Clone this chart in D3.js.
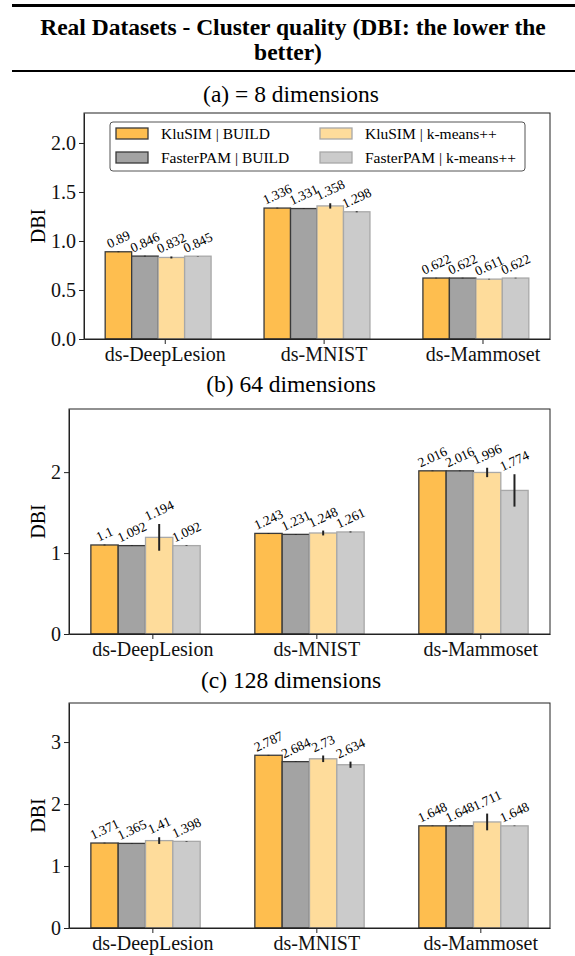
<!DOCTYPE html>
<meta charset="utf-8">
<script src="https://d3js.org/d3.v7.min.js"></script>
<style>
  body { margin: 0; background: #fff; }
  svg { font-family: "Liberation Serif", "Times New Roman", serif; }
  .axis path, .axis line { stroke: #222; }
  .axis text { font-family: "Liberation Serif", "Times New Roman", serif; font-size: 20px; fill: #111; }
</style>
<div id="chart"></div>
<script>

// data
const categories = ["ds-DeepLesion", "ds-MNIST", "ds-Mammoset"];
const series = ["KluSIM | BUILD", "FasterPAM | BUILD", "KluSIM | k-means++", "FasterPAM | k-means++"];

// per category, one value per series
const dbi8   = [[0.89, 0.846, 0.832, 0.845], [1.336, 1.331, 1.358, 1.298], [0.622, 0.622, 0.611, 0.622]];
const err8   = [[0.004, 0.004, 0.01, 0.002], [0.004, 0.003, 0.027, 0.005], [0.003, 0.003, 0.003, 0.003]];
const dbi64  = [[1.1, 1.092, 1.194, 1.092], [1.243, 1.231, 1.248, 1.261], [2.016, 2.016, 1.996, 1.774]];
const err64  = [[0.005, 0.004, 0.165, 0.004], [0.005, 0.004, 0.03, 0.006], [0.004, 0.004, 0.058, 0.2]];
const dbi128 = [[1.371, 1.365, 1.41, 1.398], [2.787, 2.684, 2.73, 2.634], [1.648, 1.648, 1.711, 1.648]];
const err128 = [[0.005, 0.004, 0.054, 0.005], [0.006, 0.004, 0.053, 0.05], [0.004, 0.004, 0.135, 0.004]];

const ticks8 = [0, 0.5, 1, 1.5, 2];
const ticks64 = [0, 1, 2];
const ticks128 = [0, 1, 2, 3];

// styles
const fills   = ["#febe4f", "#a3a3a3", "#fedc9b", "#cbcbcb"];
const strokes = ["#3a3a3a", "#3a3a3a", "#a8a8a8", "#a8a8a8"];

const W = 575, H = 956;
const svg = d3.select("#chart").append("svg")
    .attr("width", W)
    .attr("height", H);

// header (table caption style)
svg.append("rect").attr("x", 12).attr("y", 4).attr("width", W - 12).attr("height", 3).attr("fill", "#000");
svg.append("text").attr("x", 293).attr("y", 35).attr("text-anchor", "middle")
    .style("font-size", "23.5px").style("font-weight", "bold")
    .text("Real Datasets - Cluster quality (DBI: the lower the");
svg.append("text").attr("x", 288).attr("y", 60).attr("text-anchor", "middle")
    .style("font-size", "23.5px").style("font-weight", "bold")
    .text("better)");
svg.append("rect").attr("x", 12).attr("y", 70).attr("width", W - 12).attr("height", 2).attr("fill", "#000");

const panels = [
  {title: "(a) = 8 dimensions", titleY: 102, vals: dbi8, errs: err8, ticks: ticks8, fmt: ".1f", yMax: 2.306, left: 84, top: 113, bottom: 339, legend: true},
  {title: "(b) 64 dimensions", titleY: 392, vals: dbi64, errs: err64, ticks: ticks64, fmt: "d", yMax: 2.78, left: 69, top: 409, bottom: 634},
  {title: "(c) 128 dimensions", titleY: 688, vals: dbi128, errs: err128, ticks: ticks128, fmt: "d", yMax: 3.63, left: 69, top: 703, bottom: 928}
];

const right = 550;
const bw = 1 / 6;           // bar width in category units
const rot = 25;             // value label rotation

panels.forEach(function(p) {
  svg.append("text")
      .attr("x", 291).attr("y", p.titleY)
      .attr("text-anchor", "middle")
      .style("font-size", "23.5px")
      .text(p.title);

  const x = d3.scaleLinear().domain([-0.375 - 0.1333, 2 + 1.75 * bw + 0.1333]).range([p.left, right]);
  const y = d3.scaleLinear().domain([0, p.yMax]).range([p.bottom, p.top]);

  const g = svg.append("g");

  // bars
  p.vals.forEach(function(row, i) {
    row.forEach(function(v, k) {
      const x0 = x(i + (k - 2.25) * bw);
      const x1 = x(i + (k - 1.25) * bw);
      g.append("rect")
          .attr("x", x0).attr("y", y(v))
          .attr("width", x1 - x0).attr("height", y(0) - y(v))
          .attr("fill", fills[k])
          .attr("stroke", strokes[k])
          .attr("stroke-width", 1.3);
    });
  });

  // error bars + value labels
  p.vals.forEach(function(row, i) {
    row.forEach(function(v, k) {
      const e = p.errs[i][k];
      const cx = x(i + (k - 1.75) * bw);
      g.append("line")
          .attr("x1", cx).attr("x2", cx)
          .attr("y1", y(v - e)).attr("y2", y(v + e))
          .attr("stroke", "#222").attr("stroke-width", 2);

      const lab = g.append("text")
          .attr("text-anchor", "middle")
          .attr("dominant-baseline", "central")
          .style("font-size", "13.5px")
          .text(String(v));
      const w = lab.node().getComputedTextLength();
      const th = rot * Math.PI / 180;
      const bh = w * Math.sin(th) + 11 * Math.cos(th);
      lab.attr("transform", `translate(${cx},${y(v + e) - 2 - bh / 2}) rotate(${-rot})`);
    });
  });

  // axes
  svg.append("g").attr("class", "axis")
      .attr("transform", `translate(0,${p.bottom})`)
      .call(d3.axisBottom(x).tickValues([0, 1, 2]).tickFormat(function(d) { return categories[d]; }).tickSize(5).tickPadding(3).tickSizeOuter(0));
  svg.append("g").attr("class", "axis")
      .attr("transform", `translate(${p.left},0)`)
      .call(d3.axisLeft(y).tickValues(p.ticks).tickFormat(d3.format(p.fmt)).tickSize(5).tickPadding(3).tickSizeOuter(0));

  // frame
  svg.append("rect")
      .attr("x", p.left).attr("y", p.top)
      .attr("width", right - p.left).attr("height", p.bottom - p.top)
      .attr("fill", "none").attr("stroke", "#222").attr("stroke-width", 1);

  svg.append("text")
      .attr("transform", `translate(37.5,${(p.top + p.bottom) / 2}) rotate(-90)`)
      .attr("text-anchor", "middle")
      .attr("dominant-baseline", "central")
      .style("font-size", "20px")
      .text("DBI");

  if (p.legend) {
    const lg = svg.append("g").attr("transform", "translate(110,122)");
    lg.append("rect").attr("width", 415).attr("height", 49).attr("rx", 3)
        .attr("fill", "#fff").attr("fill-opacity", 0.85)
        .attr("stroke", "#555").attr("stroke-width", 1);
    series.forEach(function(s, k) {
      const col = Math.floor(k / 2), r = k % 2;
      const item = lg.append("g").attr("transform", `translate(${6 + col * 204},${6 + r * 24})`);
      item.append("rect").attr("width", 32).attr("height", 11)
          .attr("fill", fills[k]).attr("stroke", strokes[k]).attr("stroke-width", 1.3);
      item.append("text").attr("x", 45).attr("y", 5.5)
          .attr("dominant-baseline", "central")
          .style("font-size", "15.5px")
          .text(s);
    });
  }
});

</script>
